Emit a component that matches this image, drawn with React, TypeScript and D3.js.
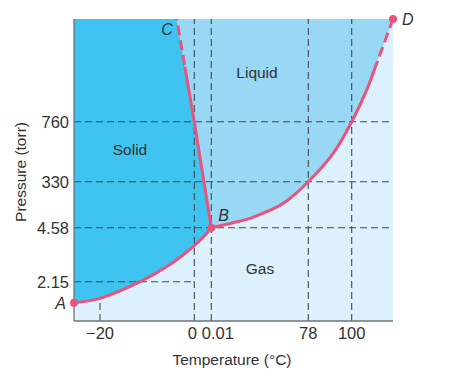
import React from "react";
import * as d3 from "d3";

// Tick values
const tempTicks = [-20, 0, 0.01, 78, 100];
const tempTickLabels = ["\u221220", "0", "0.01", "78", "100"];
const pressTicks = [2.15, 4.58, 330, 760];
const pressTickLabels = ["2.15", "4.58", "330", "760"];

// Axis domain anchors (schematic, non-linear axes)
const tempDomain = [-25.5, -20, 0, 0.01, 78, 100, 121];
const pressDomain = [0, 2.15, 4.58, 330, 760, 1500];

// Phase boundary curves [temperature °C, pressure torr]
const sublimation: [number, number][] = [
  [-25.5, 1.0],
  [-20, 1.24],
  [-11.5, 2.15],
  [-5.15, 2.92],
  [0, 3.77],
  [0.0053, 4.16],
  [0.01, 4.58],
];
const melting: [number, number][] = [
  [0.01, 4.58],
  [0, 760],
  [-3.73, 1500],
];
const vaporization: [number, number][] = [
  [0.01, 4.58],
  [17.7, 40],
  [31.1, 71],
  [44.6, 118],
  [57.9, 177],
  [78, 330],
  [90.7, 534],
  [100, 760],
  [107.6, 988],
  [112.7, 1180],
  [121, 1500],
];

const pointA: [number, number] = [-25.5, 1.0];
const pointB: [number, number] = [0.01, 4.58];
const pointC: [number, number] = [-3.73, 1500];
const pointD: [number, number] = [121, 1500];

const W = 456;
const H = 377;

export default function App() {
  const x = d3
    .scaleLinear()
    .domain(tempDomain)
    .range([74, 100, 194.3, 211.3, 308.3, 351.7, 393]);
  const y = d3
    .scaleLinear()
    .domain(pressDomain)
    .range([321, 281.7, 227.7, 181.7, 121.7, 19]);

  const x0 = x(tempDomain[0]);
  const x1 = x(tempDomain[tempDomain.length - 1]);
  const yTop = y(pressDomain[pressDomain.length - 1]);
  const yBot = y(pressDomain[0]);

  const curved = d3
    .line<[number, number]>()
    .x((d) => x(d[0]))
    .y((d) => y(d[1]))
    .curve(d3.curveCatmullRom.alpha(0.5));
  const straight = d3
    .line<[number, number]>()
    .x((d) => x(d[0]))
    .y((d) => y(d[1]));

  const subPath = curved(sublimation) as string;
  const meltPath = straight(melting) as string;
  const vapPath = curved(vaporization) as string;

  const solidRegion =
    subPath +
    melting
      .slice(1)
      .map((d) => `L${x(d[0])},${y(d[1])}`)
      .join("") +
    `L${x0},${yTop}Z`;
  const liquidRegion =
    vapPath +
    [...melting]
      .reverse()
      .map((d) => `L${x(d[0])},${y(d[1])}`)
      .join("") +
    "Z";

  const pink = "#e8547c";
  const grid = "#3d4a52";
  const textColor = "#333";
  const font = "'Liberation Sans', Arial, sans-serif";

  // sublimation curve value at -20 for the short gridline
  const subAtMinus20 = sublimation.find((d) => d[0] === -20)![1];

  return (
    <svg
      width={W}
      height={H}
      style={{ position: "absolute", left: 0, top: 0 }}
      fontFamily={font}
    >
      <defs>
        <clipPath id="meltSolid">
          <rect x={0} y={67} width={W} height={H} />
        </clipPath>
        <clipPath id="meltDash">
          <rect x={0} y={0} width={W} height={67} />
        </clipPath>
        <clipPath id="vapSolid">
          <rect x={0} y={61} width={W} height={H} />
        </clipPath>
        <clipPath id="vapDash">
          <rect x={0} y={0} width={W} height={61} />
        </clipPath>
      </defs>

      {/* regions */}
      <rect x={x0} y={yTop} width={x1 - x0} height={yBot - yTop} fill="#dcf1fc" />
      <path d={liquidRegion} fill="#98d8f5" />
      <path d={solidRegion} fill="#3fc3f0" />

      {/* dashed grid lines */}
      <g stroke={grid} strokeWidth={1.1} strokeDasharray="7,4" fill="none">
        {[0, 0.01, 78, 100].map((t) => (
          <line key={"v" + t} x1={x(t)} x2={x(t)} y1={yBot} y2={yTop} />
        ))}
        <line x1={x(-20)} x2={x(-20)} y1={yBot} y2={y(subAtMinus20)} />
        {[4.58, 330, 760].map((p) => (
          <line key={"h" + p} x1={x0} x2={x1} y1={y(p)} y2={y(p)} />
        ))}
        <line x1={x0} x2={x(0)} y1={y(2.15)} y2={y(2.15)} />
      </g>

      {/* axes */}
      <line x1={x0} x2={x0} y1={yTop} y2={yBot} stroke="#6b7378" strokeWidth={1.3} />
      <line x1={x0} x2={x1} y1={yBot} y2={yBot} stroke="#6b7378" strokeWidth={1.3} />

      {/* phase boundaries */}
      <g fill="none" stroke={pink} strokeWidth={3} strokeLinejoin="round">
        <path d={subPath} />
        <path d={meltPath} clipPath="url(#meltSolid)" />
        <path d={meltPath} clipPath="url(#meltDash)" strokeDasharray="10,5" />
        <path d={vapPath} clipPath="url(#vapSolid)" />
        <path d={vapPath} clipPath="url(#vapDash)" strokeDasharray="10,5" />
      </g>
      {[pointA, pointB, pointD].map((p, i) => (
        <circle key={i} cx={x(p[0])} cy={y(p[1])} r={4} fill={pink} />
      ))}

      {/* point labels */}
      <g fill={textColor} fontSize={16} fontStyle="italic">
        <text x={x(pointA[0]) - 8} y={y(pointA[1]) + 6} textAnchor="end">A</text>
        <text x={x(pointB[0]) + 7} y={y(pointB[1]) - 7}>B</text>
        <text x={x(pointC[0]) - 4} y={y(pointC[1]) + 16} textAnchor="end">C</text>
        <text x={x(pointD[0]) + 9} y={y(pointD[1]) + 6}>D</text>
      </g>

      {/* region labels */}
      <g fill={textColor} fontSize={15.5} textAnchor="middle">
        <text x={130} y={155}>Solid</text>
        <text x={257} y={78}>Liquid</text>
        <text x={260} y={274}>Gas</text>
      </g>

      {/* tick labels */}
      <g fill={textColor} fontSize={16.5} textAnchor="middle">
        {tempTicks.map((t, i) => (
          <text
            key={"xt" + t}
            x={x(t) + (t === 0 ? -2 : t === 0.01 ? 6.5 : 0)}
            y={339}
          >
            {tempTickLabels[i]}
          </text>
        ))}
      </g>
      <g fill={textColor} fontSize={16.5} textAnchor="end">
        {pressTicks.map((p, i) => (
          <text key={"yt" + p} x={69} y={y(p) + 6}>
            {pressTickLabels[i]}
          </text>
        ))}
      </g>

      {/* axis titles */}
      <text x={232} y={365} fill={textColor} fontSize={15.5} textAnchor="middle">
        Temperature (°C)
      </text>
      <text
        transform={`translate(26,172) rotate(-90)`}
        fill={textColor}
        fontSize={15.5}
        textAnchor="middle"
      >
        Pressure (torr)
      </text>
    </svg>
  );
}
